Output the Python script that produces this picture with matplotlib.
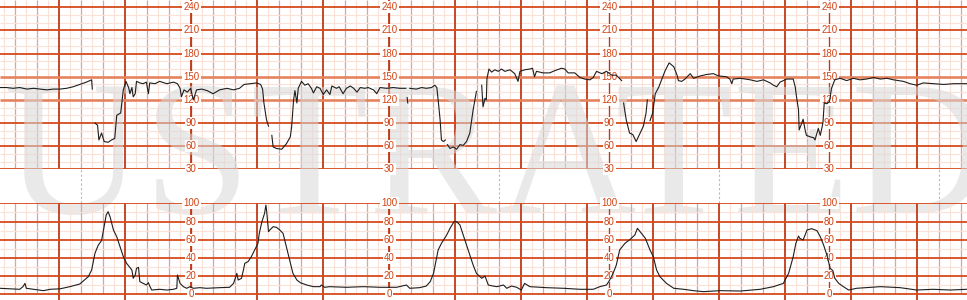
import numpy as np
import matplotlib.pyplot as plt

nan = np.nan

# fetal heart rate trace (minutes, bpm); nan = signal loss
fhr_t = [0.10, 0.20, 0.30, 0.40, 0.51, 0.61, 0.71, 0.81, 0.91, 1.01, 1.11, 1.21, 1.31, 1.41, 1.49, 1.50, nan,
         1.54, 1.58, 1.60, 1.64, 1.68, 1.74, 1.79, 1.84, 1.87, 1.93, 1.97, 2.01, 2.05, 2.07, 2.10, 2.12,
         2.15, 2.17, 2.22, 2.27, 2.32, 2.35, 2.37, 2.45, 2.52, 2.63, 2.73, 2.79, 2.83, 2.85, 2.89, 2.94,
         2.99, 3.03, 3.08, 3.16, 3.24, 3.33, 3.43, 3.54, 3.64, 3.73, 3.80, 3.89, 3.99, 4.05, 4.08, 4.10,
         4.14, 4.17, nan,
         4.22, 4.24, 4.29, 4.37, 4.44, 4.50, 4.52, 4.55, 4.57, 4.60, 4.62, 4.67, 4.72, 4.77, 4.82, 4.85,
         4.90, 4.95, 5.00, 5.05, 5.10, 5.13, 5.20, 5.24, 5.30, 5.35, 5.41, 5.46, 5.51, 5.56, 5.63, 5.68,
         5.76, 5.81, 5.86, 5.96, 6.06, 6.16, 6.25, nan, 6.27, 6.28, nan,
         6.31, 6.41, 6.49, 6.56, 6.64, 6.69, 6.72, 6.74, 6.77, 6.79, 6.82, 6.85, nan,
         6.88, 6.92, 6.97, 7.02, 7.07, 7.12, 7.17, 7.22, 7.27, 7.32, nan,
         7.40, 7.42, 7.45, 7.47, 7.48, 7.51, 7.55, 7.60, 7.65, 7.70, 7.75, 7.83, 7.90, 7.95, 7.98, 8.05,
         8.13, 8.17, 8.20, 8.23, 8.33, 8.43, 8.51, 8.61, 8.66, 8.71, 8.81, 8.89, 8.96, 9.04, 9.09, 9.14,
         9.22, 9.29, 9.37, 9.44, 9.52, nan,
         9.55, 9.59, 9.64, 9.69, 9.74, 9.80, 9.85, 9.89, 9.91, nan,
         9.95, 9.99, 10.03, 10.08, 10.13, 10.18, 10.24, 10.31, 10.36, 10.38, 10.43, 10.48, 10.56, 10.61,
         10.71, 10.81, 10.91, 10.99, 11.11, 11.16, 11.19, 11.21, 11.32, 11.47, 11.57, 11.67, 11.77, 11.82,
         11.87, 11.92, 12.02, 12.12, 12.15, 12.17, 12.20, 12.21, 12.25, 12.27, 12.30, 12.32, 12.38, 12.43,
         12.45, 12.50, 12.53, 12.57, 12.59, 12.63, 12.67, 12.70, 12.75, 12.83, 12.93, 13.03, 13.13, 13.23,
         13.34, 13.44, 13.54, 13.64, 13.79, 13.89, 13.99, 14.09, 14.24, 14.40, 14.55, 14.75]
fhr_bpm = [136, 136, 135, 136, 134, 135, 134, 133, 134, 134, 135, 137, 140, 143, 146, 134, nan,
           90, 87, 68, 77, 66, 65, 68, 70, 100, 103, 133, 144, 136, 128, 136, 124,
           128, 144, 142, 141, 143, 128, 142, 141, 144, 141, 143, 141, 135, 124, 133, 130,
           135, 120, 133, 134, 132, 128, 133, 135, 133, 135, 140, 141, 142, 140, 134, 116,
           94, 86, nan,
           74, 59, 57, 56, 63, 72, 85, 120, 132, 116, 135, 144, 139, 141, 135, 129,
           137, 135, 127, 133, 127, 138, 135, 137, 128, 135, 138, 135, 130, 136, 135, 136,
           133, 128, 136, 135, 136, 135, 135, nan, 123, 116, nan,
           135, 134, 136, 135, 136, 139, 136, 120, 94, 68, 66, 68, nan,
           62, 57, 59, 56, 62, 61, 66, 77, 107, 131, nan,
           139, 111, 122, 120, 148, 160, 156, 159, 157, 160, 157, 159, 154, 144, 157, 159,
           160, 161, 150, 157, 155, 155, 158, 161, 160, 155, 155, 149, 147, 146, 149, 157,
           154, 157, 152, 152, 145, nan,
           116, 94, 77, 75, 66, 77, 86, 103, 120, nan,
           93, 103, 128, 136, 147, 158, 168, 163, 152, 145, 144, 147, 154, 148,
           151, 153, 154, 151, 150, 147, 141, 147, 148, 146, 144, 146, 142, 139,
           137, 143, 147, 147, 137, 124, 107, 81, 90, 95, 81, 74, 72, 71,
           68, 83, 74, 90, 116, 115, 118, 135, 146, 148, 145, 148, 146, 147,
           149, 147, 148, 146, 144, 141, 139, 142, 141, 140, 141, 141]

# uterine activity trace (minutes, units)
toco_t = [0.10, 0.25, 0.40, 0.45, 0.48, 0.50, 0.61, 0.76, 0.86, 1.01, 1.16, 1.31, 1.44, 1.49, 1.54, 1.59,
          1.64, 1.67, 1.71, 1.74, 1.77, 1.82, 1.87, 1.92, 1.97, 2.02, 2.10, 2.12, 2.15, 2.17, 2.20, 2.22,
          2.27, 2.32, 2.35, 2.37, 2.40, 2.52, 2.63, 2.73, 2.78, 2.79, 2.83, 2.88, 2.93, 2.98, 3.03, 3.13,
          3.23, 3.43, 3.58, 3.64, 3.69, 3.71, 3.76, 3.79, 3.81, 3.86, 3.91, 3.96, 4.01, 4.03, 4.07, 4.11,
          4.13, 4.14, 4.17, 4.19, 4.24, 4.29, 4.34, 4.39, 4.44, 4.49, 4.54, 4.60, 4.65, 4.75, 4.85, 4.95,
          4.97, 5.02, 5.10, 5.35, 5.61, 5.86, 6.11, 6.26, 6.31, 6.46, 6.56, 6.62, 6.67, 6.71, 6.74, 6.79,
          6.87, 6.92, 6.98, 7.02, 7.07, 7.12, 7.17, 7.22, 7.27, 7.32, 7.40, 7.45, 7.50, 7.57, 7.63, 7.73,
          7.78, 7.85, 7.93, 8.00, 8.05, 8.13, 8.38, 8.64, 8.89, 9.09, 9.19, 9.29, 9.34, 9.39, 9.44, 9.49,
          9.57, 9.65, 9.72, 9.76, 9.80, 9.88, 9.95, 10.00, 10.05, 10.10, 10.20, 10.31, 10.46, 10.61, 10.76, 11.01,
          11.32, 11.62, 11.82, 11.97, 12.05, 12.12, 12.16, 12.20, 12.22, 12.27, 12.33, 12.40, 12.48, 12.53, 12.58, 12.63,
          12.68, 12.72, 12.75, 12.81, 12.88, 12.96, 13.08, 13.23, 13.44, 13.74, 13.99, 14.24, 14.50, 14.75]
toco_val = [6.6, 6.0, 5.5, 8.4, 12.0, 6.6, 5.5, 4.0, 5.5, 6.0, 8.4, 11.3, 19.4, 26.7, 45.0, 54.0,
            59.0, 70.7, 87.0, 90.8, 85.0, 70.7, 63.3, 52.3, 41.4, 34.0, 26.7, 17.6, 21.2, 28.6, 29.6, 13.9,
            12.0, 10.2, 12.8, 9.1, 4.7, 5.5, 4.7, 5.5, 6.6, 21.2, 12.0, 8.4, 6.6, 8.4, 6.6, 7.3,
            6.6, 7.3, 7.7, 12.0, 23.0, 15.7, 17.5, 26.7, 34.0, 35.9, 41.4, 48.7, 56.0, 67.0, 79.8, 89.0,
            98.0, 92.6, 68.8, 70.7, 74.3, 73.6, 70.7, 67.0, 52.3, 37.7, 23.0, 15.7, 12.8, 10.2, 8.4, 8.4,
            10.2, 7.7, 8.4, 7.7, 8.4, 7.7, 7.7, 10.2, 6.6, 7.3, 9.1, 13.9, 23.0, 37.7, 48.7, 56.0,
            65.2, 72.5, 79.8, 79.8, 76.2, 65.2, 54.2, 43.2, 32.2, 23.0, 17.6, 20.0, 10.2, 9.1, 8.4, 10.2,
            6.6, 9.1, 7.7, 4.7, 12.0, 8.4, 7.3, 6.6, 5.5, 5.5, 8.4, 10.2, 15.7, 23.0, 32.2, 48.7,
            56.0, 60.4, 65.2, 72.5, 68.8, 61.5, 48.7, 41.4, 26.7, 19.4, 12.0, 6.6, 5.5, 4.0, 2.9, 4.0,
            3.6, 5.5, 8.4, 12.0, 23.0, 41.4, 56.0, 64.0, 61.5, 59.7, 70.7, 72.1, 69.9, 63.3, 54.2, 43.2,
            28.6, 26.0, 17.6, 12.0, 8.4, 4.7, 6.6, 7.3, 8.4, 7.3, 4.7, 5.5, 4.7, 5.5]

fhr_ticks = [30, 60, 90, 120, 150, 180, 210, 240]
toco_ticks = [0, 20, 40, 60, 80, 100]
label_cols = [3.0, 6.0, 9.333, 12.667]
event_marks = [1.333, 7.667, 11.0, 14.333]

LIGHT = '#fae2d9'
MEDIUM = '#dea595'
MAJOR_V = '#bf3a17'
MAJOR_H = '#d44a1c'
BAND = '#e6835f'
LABEL = '#d24314'
TRACE = '#1e1e1e'

W, H = 967, 300
x0, x1 = 0.1015, 14.753

fig = plt.figure(figsize=(W / 100, H / 100), dpi=100)
fig.patch.set_facecolor('white')
ax_fhr = fig.add_axes([0, 1 - 169.3 / H, 1, 169.3 / H])
ax_toco = fig.add_axes([0, 0, 1, (H - 203.3) / H])


def draw_grid(ax, lo, hi, bottom, major_step, ticks, band=()):
    ax.set_xlim(x0, x1)
    ax.set_ylim(bottom, hi)
    ax.axis('off')
    ax.patch.set_alpha(0)
    k = np.arange(0, 15 * 6 + 1)
    t = k / 6
    ax.vlines(t[k % 2 == 1], lo, hi, color=LIGHT, lw=0.8, zorder=1)
    ax.vlines(t[(k % 2 == 0) & (k % 6 != 0)], lo, hi, color=MEDIUM, lw=0.9, zorder=1.1)
    levels = np.arange(lo, hi + 0.1, 10)
    minor = [v for v in levels if (v - lo) % major_step != 0]
    major = [v for v in levels if (v - lo) % major_step == 0 and v not in band]
    ax.hlines(minor, x0, x1, color=LIGHT, lw=0.8, zorder=1.2)
    ax.vlines(t[k % 6 == 0], bottom, hi, color=MAJOR_V, lw=1.3, zorder=1.4)
    ax.hlines(major, x0, x1, color=MAJOR_H, lw=1.3, zorder=1.5)
    if band:
        ax.hlines(list(band), x0, x1, color=BAND, lw=1.9, zorder=1.5)
    ax.vlines(label_cols, lo, hi, color=MAJOR_V, lw=0.9, zorder=1.6)
    for c in label_cols:
        for v in ticks:
            ax.text(c, v, str(v), ha='center', va='center', fontsize=7,
                    family='Liberation Sans', color=LABEL, zorder=4,
                    bbox=dict(fc='white', ec='none', boxstyle='square,pad=0.12'))


draw_grid(ax_fhr, 30, 249.5, 30, 30, fhr_ticks, band=(120, 150))
draw_grid(ax_toco, 0, 100, -6.26, 20, toco_ticks)

# event marks in the gap between the two panels
ax_fhr.vlines(event_marks, -14.1, 30, color='#e3a898', lw=0.8,
              linestyles=(0, (2, 2)), clip_on=False, zorder=1)

# faint watermark across both panels
ax_fhr.text(990 / W, 1 - 213 / H, 'ILLUSTRATED', transform=fig.transFigure,
            ha='right', va='baseline', fontsize=139, family='Liberation Serif',
            color='#d8d8d8', alpha=0.55, zorder=3, clip_on=False)

ax_fhr.plot(fhr_t, fhr_bpm, color=TRACE, lw=0.8, zorder=5)
ax_toco.plot(toco_t, toco_val, color=TRACE, lw=0.8, zorder=5)

fig.savefig('out.png', dpi=100)
